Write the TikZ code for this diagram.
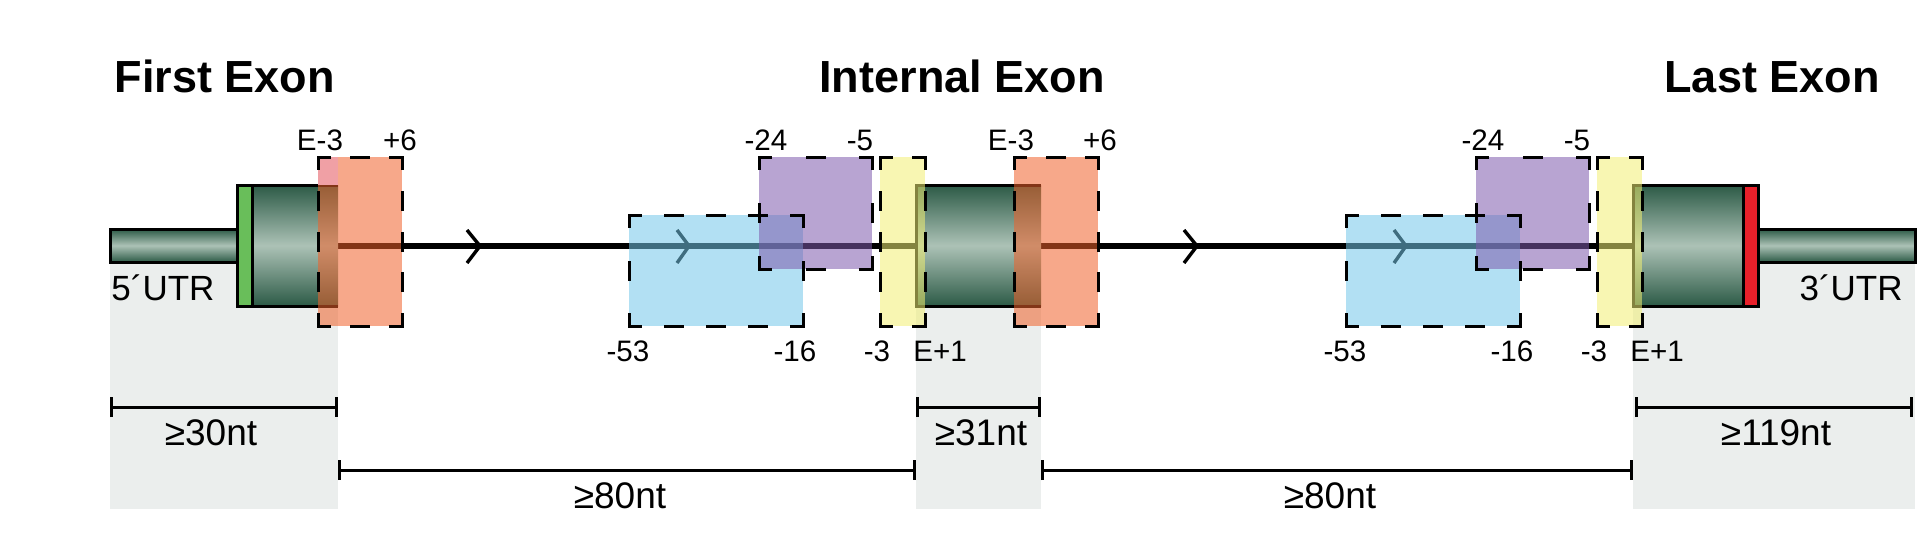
\documentclass[tikz,border=0pt]{standalone}
\usepackage{fontspec}
\setmainfont{Liberation Sans}
\usetikzlibrary{arrows.meta}
\definecolor{exd}{RGB}{44,90,70}
\definecolor{exl}{RGB}{172,194,182}
\definecolor{grn}{RGB}{105,190,90}
\definecolor{redx}{RGB}{232,32,42}
\definecolor{gry}{RGB}{235,238,237}
\definecolor{orx}{RGB}{240,97,42}
\definecolor{blx}{RGB}{115,199,233}
\definecolor{pux}{RGB}{126,90,173}
\definecolor{yex}{RGB}{242,239,115}
\definecolor{pkx}{RGB}{240,160,165}
\tikzset{
 exonfill/.style={top color=exd,bottom color=exd,middle color=exl},
 outl/.style={line width=1.5pt,draw=black},
 intron/.style={line width=2.6pt,black},
 chev/.style={line width=1.7pt,black,line join=miter},
 ovl/.style={fill opacity=0.55},
 title/.style={font=\fontsize{22.5pt}{27pt}\selectfont\bfseries,anchor=base,inner sep=0pt},
 lbl/.style={font=\fontsize{14.8pt}{17pt}\selectfont,anchor=base,inner sep=0pt},
 utr/.style={font=\fontsize{17.5pt}{20pt}\selectfont,inner sep=0pt},
 nt/.style={font=\fontsize{18.5pt}{21pt}\selectfont,anchor=base,inner sep=0pt},
 brk/.style={line width=1.5pt,{Bar[width=10pt]}-{Bar[width=10pt]}},
 grayreg/.style={fill=gry},
}
% one dashed side: x1,y1,x2,y2,length(px)
\newcommand\dside[5]{%
  \pgfmathtruncatemacro\dm{max(0,round((#5-51)/45))}%
  \pgfmathsetmacro\dg{((#5-26-20*\dm)/(\dm+1)+3)/2}%
  \draw[line width=1.5pt,black,line cap=rect,dash pattern=on 8.5pt off \dg pt,dash phase=2.75pt] (#1,#2) -- (#3,#4);
}
\newcommand\dbx[4]{%
  \pgfmathsetmacro\bw{#3-#1}\pgfmathsetmacro\bh{#4-#2}%
  \dside{#1}{#2}{#3}{#2}{\bw}%
  \dside{#1}{#4}{#3}{#4}{\bw}%
  \dside{#1}{#2}{#1}{#4}{\bh}%
  \dside{#3}{#2}{#3}{#4}{\bh}%
}
\begin{document}
\begin{tikzpicture}[x=0.5pt,y=-0.5pt]
\useasboundingbox (0,0) rectangle (1920,532);
% gray regions
\fill[grayreg] (110,246) rectangle (338,509);
\fill[grayreg] (916,246) rectangle (1041,509);
\fill[grayreg] (1633,246) rectangle (1915,509);
% introns
\coordinate (i1a) at (338,246); \coordinate (i1b) at (916,246);
\coordinate (i2a) at (1041,246); \coordinate (i2b) at (1633,246);
\draw[intron] (i1a) -- (i1b);
\draw[intron] (i2a) -- (i2b);
% chevrons
\draw[chev] (467,230) -- (480,246) -- (467,263);
\draw[chev] (677,230) -- (689,246) -- (677,263);
\draw[chev] (1184,230) -- (1197,246) -- (1184,263);
\draw[chev] (1394,230) -- (1406,246) -- (1394,263);
% UTR bars
\path[exonfill] (110,229) rectangle (237,262);
\draw[outl] (110,229) rectangle (237,262);
\path[exonfill] (1758,229) rectangle (1915,262);
\draw[outl] (1758,229) rectangle (1915,262);
% first exon
\path[exonfill] (252,185) rectangle (338,306);
\fill[grn] (237,185) rectangle (252,306);
\draw[outl] (338,185) -- (237,185) -- (237,306) -- (338,306);
\draw[outl] (252,185) -- (252,306);
% internal exon
\path[exonfill] (916,185) rectangle (1041,306);
\draw[outl] (1041,185) -- (916,185) -- (916,306) -- (1041,306);
% last exon
\path[exonfill] (1633,185) rectangle (1743,306);
\fill[redx] (1743,185) rectangle (1758,306);
\draw[outl] (1633,185) rectangle (1758,306);
\draw[outl] (1743,185) -- (1743,306);
% overlays
\fill[blx,ovl] (629,215) rectangle (803,326);
\fill[pux,ovl] (759,157) rectangle (872,269);
\fill[yex,ovl] (880,157) rectangle (925,326);
\fill[orx,ovl] (318,157) rectangle (402,326);
\fill[orx,ovl] (1014,157) rectangle (1098,326);
\fill[blx,ovl] (1346,215) rectangle (1520,326);
\fill[pux,ovl] (1476,157) rectangle (1589,269);
\fill[yex,ovl] (1597,157) rectangle (1642,326);
\fill[pkx] (318,157) rectangle (338,185);
% dashed borders
\dbx{629}{215}{803}{326}
\dbx{759}{157}{872}{269}
\dbx{880}{157}{925}{326}
\dbx{318}{157}{402}{326}
\dbx{1014}{157}{1098}{326}
\dbx{1346}{215}{1520}{326}
\dbx{1476}{157}{1589}{269}
\dbx{1597}{157}{1642}{326}
% titles
\node[title] (t1) at (225,92) {First Exon};
\node[title] (t2) at (962,92) {Internal Exon};
\node[title] (t3) at (1772,92) {Last Exon};
% top labels
\node[lbl] (a1) at (320,150) {E-3};
\node[lbl] (a2) at (400,150) {+6};
\node[lbl] (a3) at (766,150) {-24};
\node[lbl] (a4) at (860,150) {-5};
\node[lbl] (a5) at (1011,150) {E-3};
\node[lbl] (a6) at (1100,150) {+6};
\node[lbl] (a7) at (1483,150) {-24};
\node[lbl] (a8) at (1577,150) {-5};
% bottom labels
\node[lbl] (c1) at (628,361) {-53};
\node[lbl] (c2) at (795,361) {-16};
\node[lbl] (c3) at (877,361) {-3};
\node[lbl] (c4) at (940,361) {E+1};
\node[lbl] (c5) at (1345,361) {-53};
\node[lbl] (c6) at (1512,361) {-16};
\node[lbl] (c7) at (1594,361) {-3};
\node[lbl] (c8) at (1657,361) {E+1};
% UTR labels
\node[utr,anchor=base west] (u5) at (111,300) {5´UTR};
\node[utr,anchor=base east] (u3) at (1903,300) {3´UTR};
% brackets
\coordinate (b1l) at (110,407); \coordinate (b1r) at (338,407);
\coordinate (b2l) at (338,470); \coordinate (b2r) at (916,470);
\coordinate (b3l) at (916,407); \coordinate (b3r) at (1041,407);
\coordinate (b4l) at (1041,470); \coordinate (b4r) at (1633,470);
\coordinate (b5l) at (1635,407); \coordinate (b5r) at (1913,407);
\draw[brk] (b1l) -- (b1r);
\draw[brk] (b2l) -- (b2r);
\draw[brk] (b3l) -- (b3r);
\draw[brk] (b4l) -- (b4r);
\draw[brk] (b5l) -- (b5r);
\node[nt] (n1) at (211,445) {≥30nt};
\node[nt] (n2) at (620,508) {≥80nt};
\node[nt] (n3) at (981,445) {≥31nt};
\node[nt] (n4) at (1330,508) {≥80nt};
\node[nt] (n5) at (1776,445) {≥119nt};
\end{tikzpicture}
\end{document}
